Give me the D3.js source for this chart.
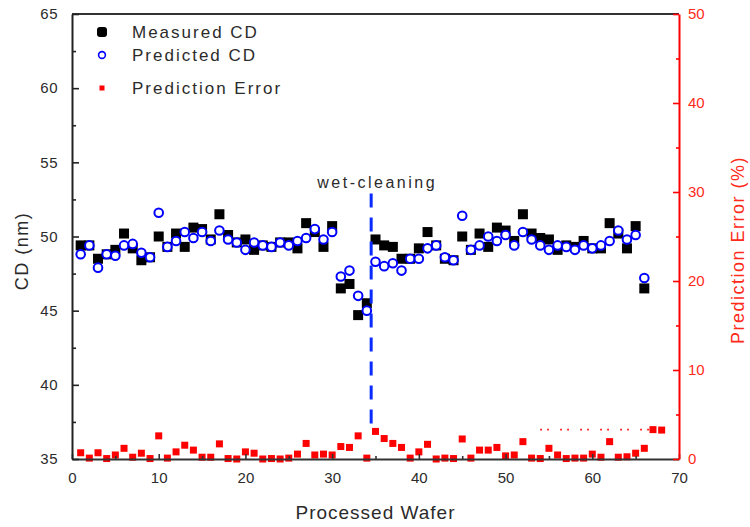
<!DOCTYPE html>
<html>
<head>
<meta charset="utf-8">
<script src="https://cdn.jsdelivr.net/npm/d3@7"></script>
<style>
  body { margin: 0; background: #fff; }
  svg { display: block; font-family: "Liberation Sans", Arial, sans-serif; }
</style>
</head>
<body>
<svg id="chart" width="750" height="527"></svg>
<script>
// Processed wafer index for CD measurements
const wafers = [1,2,3,4,5,6,7,8,9,10,11,12,13,14,15,16,17,18,19,20,21,22,23,24,25,26,27,28,29,30,
  31,32,33,34,35,36,37,38,39,40,41,42,43,44,45,46,47,48,49,50,51,52,53,54,55,56,57,58,59,60,
  61,62,63,64,65,66];

// Measured critical dimension (nm)
const measuredCD = [49.4,49.4,48.5,48.8,49.1,50.2,49.2,48.4,48.6,50.0,49.3,50.2,49.3,50.6,50.5,49.8,51.5,50.1,49.6,49.8,
  49.1,49.4,49.3,49.6,49.6,49.2,50.9,50.3,49.3,50.7,46.5,46.8,44.7,45.5,49.8,49.4,49.3,48.5,48.5,49.2,
  50.3,49.4,48.5,48.4,50.0,49.1,50.2,49.3,50.6,50.4,49.7,51.5,50.2,49.9,49.8,49.1,49.4,49.3,49.7,49.2,
  49.2,50.9,50.2,49.2,50.7,46.5];

// Predicted critical dimension (nm)
const predictedCD = [48.8,49.4,47.9,48.8,48.7,49.4,49.5,48.9,48.6,51.6,49.3,49.7,50.3,49.9,50.3,49.7,50.4,49.8,49.6,49.1,
  49.6,49.4,49.3,49.6,49.4,49.7,49.9,50.5,49.8,50.3,47.3,47.7,46.0,45.0,48.3,48.0,48.2,47.7,48.5,48.5,
  49.2,49.4,48.6,48.4,51.4,49.1,49.4,50.0,49.7,50.1,49.4,50.3,49.8,49.4,49.1,49.4,49.3,49.1,49.4,49.2,
  49.4,49.7,50.4,49.8,50.1,47.2];

// Prediction error (%) per wafer
const errorWafers = [1,2,3,4,5,6,7,8,9,10,11,12,13,14,15,16,17,18,19,20,21,22,23,24,25,26,27,28,29,30,
  31,32,33,34,35,36,37,38,39,40,41,42,43,44,45,46,47,48,49,50,51,52,53,54,55,56,57,58,59,60,
  61,62,63,64,65,66,67,68];
const predictionError = [0.7,0.1,0.7,0.05,0.45,1.2,0.2,0.65,0.05,2.6,0.1,0.8,1.55,1.0,0.2,0.2,1.7,0.05,0.0,0.8,
  0.65,0.0,0.05,0.0,0.1,0.55,1.75,0.45,0.55,0.45,1.4,1.3,2.6,0.1,3.1,2.3,1.75,1.3,0.1,0.8,
  1.65,0.0,0.1,0.05,2.25,0.1,1.0,1.0,1.3,0.35,0.45,1.95,0.1,0.05,1.2,0.45,0.05,0.1,0.1,0.55,
  0.2,1.95,0.2,0.25,0.65,1.2,3.3,3.25];

// Dotted error guide (wafer range, % level)
const guideRange = [54, 66.6];
const guideLevel = [3.3];

// Wet-cleaning event: wafer position and CD span of the marker line
const eventWafer = [34.5];
const eventSpan = [52.9, 36.75];
const eventLabel = ["wet-cleaning"];

// Axis ticks
const xTicks = [0,10,20,30,40,50,60,70];
const xMinorTicks = [5,15,25,35,45,55,65];
const cdTicks = [35,40,45,50,55,60,65];
const cdMinorTicks = [37.5,42.5,47.5,52.5,57.5,62.5];
const errTicks = [0,10,20,30,40,50];
const errMinorTicks = [5,15,25,35,45];

const legendLabels = ["Measured CD", "Predicted CD", "Prediction Error"];

const svg = d3.select("#chart");
const plot = { left: 72, right: 679, top: 14, bottom: 459 };

const x = d3.scaleLinear().domain([0, 70]).range([plot.left, plot.right]);
const y = d3.scaleLinear().domain([35, 65]).range([plot.bottom, plot.top]);
const y2 = d3.scaleLinear().domain([0, 50]).range([plot.bottom, plot.top]);

const textColor = "#2b2b2b";
const red = "#ff0000";
const blue = "#0000ff";

// ---- Data layers ----
const gData = svg.append("g");

// prediction error squares (right axis)
const errData = errorWafers.map((w, i) => ({ w, v: predictionError[i] }));
gData.selectAll("rect.err").data(errData).enter().append("rect")
  .attr("class", "err")
  .attr("x", d => x(d.w) - 3.5).attr("y", d => y2(d.v) - 3.5)
  .attr("width", 7).attr("height", 7)
  .attr("fill", red);

// dotted guide
gData.append("line")
  .attr("x1", x(guideRange[0])).attr("x2", x(guideRange[1]))
  .attr("y1", y2(guideLevel[0])).attr("y2", y2(guideLevel[0]))
  .attr("stroke", red).attr("stroke-width", 1.6)
  .attr("stroke-dasharray", "1.6,5.4,1.6,11.4");

// measured CD: filled black squares
const cdData = wafers.map((w, i) => ({ w, m: measuredCD[i], p: predictedCD[i] }));
gData.selectAll("rect.meas").data(cdData).enter().append("rect")
  .attr("class", "meas")
  .attr("x", d => x(d.w) - 5).attr("y", d => y(d.m) - 5)
  .attr("width", 10).attr("height", 10)
  .attr("fill", "#000");

// predicted CD: open blue circles
gData.selectAll("circle.pred").data(cdData).enter().append("circle")
  .attr("class", "pred")
  .attr("cx", d => x(d.w)).attr("cy", d => y(d.p))
  .attr("r", 4.3)
  .attr("fill", "#fff").attr("stroke", blue).attr("stroke-width", 2);

// wet-cleaning marker line
gData.append("line")
  .attr("x1", x(eventWafer[0])).attr("x2", x(eventWafer[0]))
  .attr("y1", y(eventSpan[0])).attr("y2", y(eventSpan[1]))
  .attr("stroke", "#0a2bff").attr("stroke-width", 3)
  .attr("stroke-dasharray", "14,10");

svg.append("text")
  .attr("x", x(eventWafer[0]) + 6).attr("y", 188)
  .attr("text-anchor", "middle")
  .attr("font-size", 16).attr("letter-spacing", 2.5)
  .attr("fill", textColor)
  .text(eventLabel[0]);

// ---- Axes ----
function styleAxis(g, color, width) {
  g.select(".domain").attr("stroke", color).attr("stroke-width", width);
  g.selectAll(".tick line").attr("stroke", color).attr("stroke-width", 1.6);
}

// top frame
svg.append("line")
  .attr("x1", plot.left).attr("x2", plot.right)
  .attr("y1", plot.top).attr("y2", plot.top)
  .attr("stroke", "#333").attr("stroke-width", 2);

// bottom axis
const gx = svg.append("g").attr("transform", `translate(0,${plot.bottom})`)
  .call(d3.axisBottom(x).tickValues(xTicks).tickSizeInner(-5).tickSizeOuter(0).tickPadding(13).tickFormat(d3.format("d")));
styleAxis(gx, "#333", 2);
gx.selectAll("text").attr("font-size", 15).attr("fill", textColor).attr("font-family", "Liberation Sans, Arial, sans-serif");
svg.append("g").attr("transform", `translate(0,${plot.bottom})`)
  .call(d3.axisBottom(x).tickValues(xMinorTicks).tickSizeInner(-3).tickSizeOuter(0).tickFormat(""))
  .call(g => { g.select(".domain").remove(); g.selectAll(".tick line").attr("stroke", "#333").attr("stroke-width", 1.6); });

// left axis
const gy = svg.append("g").attr("transform", `translate(${plot.left},0)`)
  .call(d3.axisLeft(y).tickValues(cdTicks).tickSizeInner(-7).tickSizeOuter(0).tickPadding(14).tickFormat(d3.format("d")));
styleAxis(gy, "#222", 2);
gy.selectAll("text").attr("font-size", 15).attr("fill", textColor).attr("letter-spacing", 0.5).attr("font-family", "Liberation Sans, Arial, sans-serif");
svg.append("g").attr("transform", `translate(${plot.left},0)`)
  .call(d3.axisLeft(y).tickValues(cdMinorTicks).tickSizeInner(-4).tickSizeOuter(0).tickFormat(""))
  .call(g => { g.select(".domain").remove(); g.selectAll(".tick line").attr("stroke", "#222").attr("stroke-width", 1.6); });

// right axis
const gy2 = svg.append("g").attr("transform", `translate(${plot.right},0)`)
  .call(d3.axisRight(y2).tickValues(errTicks).tickSizeInner(-6).tickSizeOuter(0).tickPadding(9).tickFormat(d3.format("d")));
styleAxis(gy2, red, 2);
gy2.selectAll("text").attr("font-size", 15).attr("fill", "#ff2a1a").attr("font-family", "Liberation Sans, Arial, sans-serif");
svg.append("g").attr("transform", `translate(${plot.right},0)`)
  .call(d3.axisRight(y2).tickValues(errMinorTicks).tickSizeInner(-3).tickSizeOuter(0).tickFormat(""))
  .call(g => { g.select(".domain").remove(); g.selectAll(".tick line").attr("stroke", red).attr("stroke-width", 1.6); });

// axis titles
svg.append("text")
  .attr("x", (plot.left + plot.right) / 2).attr("y", 519)
  .attr("text-anchor", "middle")
  .attr("font-size", 19).attr("letter-spacing", 1)
  .attr("fill", textColor)
  .text("Processed Wafer");

svg.append("text")
  .attr("transform", `translate(28,251) rotate(-90)`)
  .attr("text-anchor", "middle")
  .attr("font-size", 18).attr("letter-spacing", 1.5)
  .attr("fill", textColor)
  .text("CD (nm)");

svg.append("text")
  .attr("transform", `translate(744,250) rotate(-90)`)
  .attr("text-anchor", "middle")
  .attr("font-size", 18).attr("letter-spacing", 1.5)
  .attr("fill", "#ff2a1a")
  .text("Prediction Error (%)");

// ---- Legend ----
const legend = svg.append("g");
const rows = [32, 55, 88];
legend.append("rect").attr("x", 97).attr("y", rows[0] - 5).attr("width", 10).attr("height", 10)
  .attr("rx", 3).attr("fill", "#000");
legend.append("circle").attr("cx", 102).attr("cy", rows[1]).attr("r", 3.4)
  .attr("fill", "#fff").attr("stroke", blue).attr("stroke-width", 1.6);
legend.append("rect").attr("x", 99.5).attr("y", rows[2] - 2.5).attr("width", 5).attr("height", 5)
  .attr("fill", red);
legend.selectAll("text").data(legendLabels).enter().append("text")
  .attr("x", 132).attr("y", (d, i) => rows[i] + 6)
  .attr("font-size", 17).attr("letter-spacing", 2)
  .attr("fill", textColor)
  .text(d => d);
</script>
</body>
</html>
